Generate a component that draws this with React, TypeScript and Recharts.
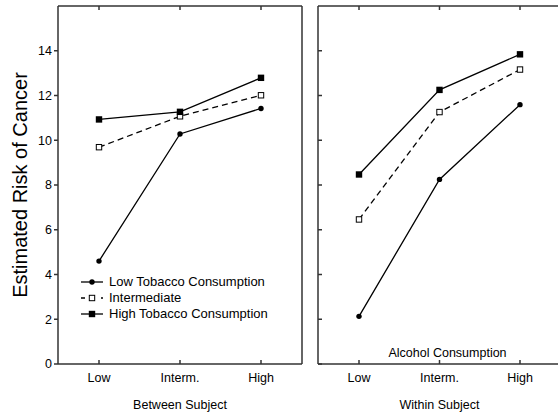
import React from 'react';
import { LineChart, Line, XAxis, YAxis, Legend, ReferenceLine } from 'recharts';

const categories = ['Low', 'Interm.', 'High'];
const yTicks = [0, 2, 4, 6, 8, 10, 12, 14];

const betweenLow = [4.6, 10.28, 11.42];
const betweenInter = [9.69, 11.07, 12.01];
const betweenHigh = [10.93, 11.27, 12.79];

const withinLow = [2.13, 8.25, 11.59];
const withinInter = [6.46, 11.26, 13.16];
const withinHigh = [8.47, 12.25, 13.84];

const seriesMeta = [
  { key: 'low', name: 'Low Tobacco Consumption', dash: undefined as string | undefined, marker: 'circle' },
  { key: 'inter', name: 'Intermediate', dash: '6 4', marker: 'open' },
  { key: 'high', name: 'High Tobacco Consumption', dash: undefined as string | undefined, marker: 'square' },
];

const betweenData = categories.map((cat, i) => ({
  cat,
  low: betweenLow[i],
  inter: betweenInter[i],
  high: betweenHigh[i],
}));
const withinData = categories.map((cat, i) => ({
  cat,
  low: withinLow[i],
  inter: withinInter[i],
  high: withinHigh[i],
}));

const FONT = '"Liberation Sans", Arial, sans-serif';
const FRAME = { stroke: '#333', strokeWidth: 1.5 };
const LINE_COLOR = '#000';
const PAD = { left: 41, right: 41 };
const THIN = 0.5;

const EmptyTick = () => <g />;

function Marker({ cx, cy, kind }: { cx: number; cy: number; kind: string }) {
  if (kind === 'circle') return <circle cx={cx} cy={cy} r={2.7} fill="#000" />;
  if (kind === 'open')
    return <rect x={cx - 2.7} y={cy - 2.7} width={5.4} height={5.4} fill="#fff" stroke="#000" strokeWidth={1} />;
  return <rect x={cx - 3.2} y={cy - 3.2} width={6.4} height={6.4} fill="#000" />;
}

function makeDot(kind: string) {
  return (props: any) => {
    const { cx, cy, index } = props;
    if (cx == null || cy == null) return <g key={`d${index}`} />;
    return (
      <g key={`d${kind}${index}`}>
        <Marker cx={cx} cy={cy} kind={kind} />
      </g>
    );
  };
}

function LegendContent(props: any) {
  const payload = props.payload || [];
  const keys = payload.map((p: any) => p.dataKey);
  const ordered = seriesMeta.filter((s) => keys.length === 0 || keys.includes(s.key));
  return (
    <div style={{ fontFamily: FONT, fontSize: 13, color: '#000' }}>
      {ordered.map((meta) => (
        <div key={meta.key} style={{ display: 'flex', alignItems: 'center', height: 16, whiteSpace: 'nowrap' }}>
          <svg width={28} height={16} style={{ display: 'block' }}>
            <line x1={2} x2={24} y1={8} y2={8} stroke="#000" strokeWidth={1.3} strokeDasharray={meta.dash ? '4 6' : undefined} />
            <Marker cx={13} cy={8} kind={meta.marker} />
          </svg>
          <span style={{ marginLeft: 2, lineHeight: '16px' }}>{meta.name}</span>
        </div>
      ))}
    </div>
  );
}

function renderLines() {
  return seriesMeta.map((s) => (
    <Line
      key={s.key}
      xAxisId="b"
      yAxisId="l"
      dataKey={s.key}
      name={s.name}
      stroke={LINE_COLOR}
      strokeWidth={1.3}
      strokeDasharray={s.dash}
      dot={makeDot(s.marker)}
      activeDot={false}
      isAnimationActive={false}
    />
  ));
}

const tickStyle = { fill: '#000', fontSize: 12.5, fontFamily: FONT };

export default function App() {
  return (
    <div
      style={{
        position: 'absolute',
        left: 0,
        top: 0,
        width: 558,
        height: 416,
        overflow: 'hidden',
        background: '#fff',
        fontFamily: FONT,
      }}
    >
      <div style={{ position: 'absolute', left: 0, top: 0 }}>
        <LineChart width={310} height={416} data={betweenData} margin={{ top: 6, right: 8, left: 0, bottom: 0 }}>
          <XAxis
            xAxisId="b"
            dataKey="cat"
            height={52}
            padding={PAD}
            interval={0}
            tickLine={false}
            tickSize={0}
            tickMargin={9}
            axisLine={FRAME}
            tick={tickStyle}
            label={{ value: 'Between Subject', position: 'insideBottom', offset: 7, fill: '#000', fontSize: 12.5, fontFamily: FONT }}
          />
          <XAxis xAxisId="bt" dataKey="cat" orientation="bottom" mirror height={THIN} padding={PAD} interval={0} tick={EmptyTick} axisLine={false} tickLine={FRAME} tickSize={4} />
          <XAxis xAxisId="t" dataKey="cat" orientation="top" mirror height={THIN} padding={PAD} interval={0} tick={EmptyTick} axisLine={FRAME} tickLine={FRAME} tickSize={4} />
          <YAxis
            yAxisId="l"
            type="number"
            width={58}
            domain={[0, 16]}
            ticks={yTicks}
            interval={0}
            tickSize={4}
            tickMargin={2}
            axisLine={FRAME}
            tickLine={FRAME}
            tick={tickStyle}
            label={{
              value: 'Estimated Risk of Cancer',
              angle: -90,
              position: 'insideLeft',
              offset: 20,
              fill: '#000',
              fontSize: 20,
              fontFamily: FONT,
              style: { textAnchor: 'middle' },
            }}
          />
          <YAxis yAxisId="r" type="number" orientation="right" mirror width={THIN} domain={[0, 16]} ticks={yTicks} interval={0} tick={EmptyTick} tickSize={4} axisLine={FRAME} tickLine={FRAME} />
          {renderLines()}
          <Legend
            layout="vertical"
            align="center"
            verticalAlign="middle"
            content={<LegendContent />}
            wrapperStyle={{ left: 79, top: 274, width: 'auto', height: 'auto' }}
          />
        </LineChart>
      </div>
      <div style={{ position: 'absolute', left: 300, top: 0 }}>
        <LineChart width={270} height={416} data={withinData} margin={{ top: 6, right: 9, left: 18, bottom: 0 }}>
          <XAxis
            xAxisId="b"
            dataKey="cat"
            height={52}
            padding={PAD}
            interval={0}
            tickLine={false}
            tickSize={0}
            tickMargin={9}
            axisLine={FRAME}
            tick={tickStyle}
            label={{ value: 'Within Subject', position: 'insideBottom', offset: 7, fill: '#000', fontSize: 12.5, fontFamily: FONT }}
          />
          <XAxis xAxisId="bt" dataKey="cat" orientation="bottom" mirror height={THIN} padding={PAD} interval={0} tick={EmptyTick} axisLine={false} tickLine={FRAME} tickSize={4} />
          <XAxis xAxisId="t" dataKey="cat" orientation="top" mirror height={THIN} padding={PAD} interval={0} tick={EmptyTick} axisLine={FRAME} tickLine={FRAME} tickSize={4} />
          <YAxis yAxisId="l" type="number" orientation="left" mirror width={THIN} domain={[0, 16]} ticks={yTicks} interval={0} tick={EmptyTick} tickSize={4} axisLine={FRAME} tickLine={FRAME} />
          <YAxis yAxisId="r" type="number" orientation="right" mirror width={THIN} domain={[0, 16]} ticks={yTicks} interval={0} tick={EmptyTick} tickSize={5} axisLine={FRAME} tickLine={FRAME} />
          <ReferenceLine
            xAxisId="b"
            yAxisId="l"
            y={0}
            strokeOpacity={0}
            ifOverflow="visible"
            label={{ value: 'Alcohol Consumption', position: 'top', offset: 7, dx: 8, fill: '#000', fontSize: 12.5, fontFamily: FONT }}
          />
          {renderLines()}
        </LineChart>
      </div>
    </div>
  );
}
